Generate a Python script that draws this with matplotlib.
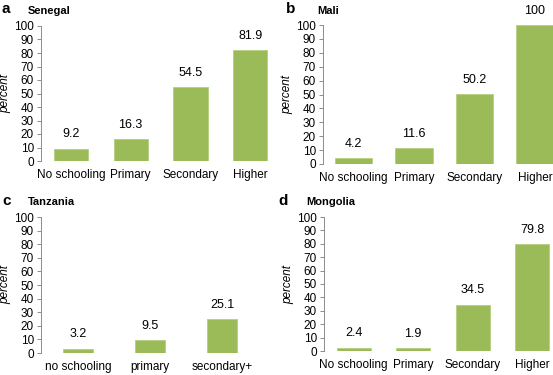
import matplotlib.pyplot as plt

plt.rcParams['font.family'] = ['Liberation Sans', 'DejaVu Sans']

# data
senegal_cats = ['No schooling', 'Primary', 'Secondary', 'Higher']
senegal_vals = [9.2, 16.3, 54.5, 81.9]

mali_cats = ['No schooling', 'Primary', 'Secondary', 'Higher']
mali_vals = [4.2, 11.6, 50.2, 100]

tanzania_cats = ['no schooling', 'primary', 'secondary+']
tanzania_vals = [3.2, 9.5, 25.1]

mongolia_cats = ['No schooling', 'Primary', 'Secondary', 'Higher']
mongolia_vals = [2.4, 1.9, 34.5, 79.8]

GREEN = '#9bbb59'
GREY = '#8c8c8c'
W, H = 553, 375

fig = plt.figure(figsize=(W / 100, H / 100), dpi=100)


def px_axes(left, top, right, bottom):
    return fig.add_axes([left / W, 1 - bottom / H, (right - left) / W, (bottom - top) / H])


def panel(box, cats, vals, xlim, width, letter, title, letter_xy, title_xy):
    ax = px_axes(*box)
    x = list(range(len(cats)))
    ax.bar(x, vals, width=width, color=GREEN, edgecolor='#b5cf83', linewidth=0.6)
    for xi, v in zip(x, vals):
        lbl = f'{v:g}' if v >= 100 else f'{v:.1f}'
        ax.annotate(lbl, (xi, v), xytext=(0, 6), textcoords='offset points',
                    ha='center', va='bottom', fontsize=9)
    ax.set_xlim(*xlim)
    ax.set_ylim(0, 100)
    ax.set_yticks(range(0, 101, 10))
    ax.set_xticks(x)
    ax.set_xticklabels(cats, fontsize=8.5)
    ax.tick_params(axis='x', length=0, pad=6)
    ax.tick_params(axis='y', labelsize=8.5, length=3, width=0.7, color=GREY, pad=2)
    for s in ['top', 'right', 'bottom']:
        ax.spines[s].set_visible(False)
    ax.spines['left'].set_color(GREY)
    ax.spines['left'].set_linewidth(0.7)
    ax.set_ylabel('percent', fontsize=8.5, style='italic', labelpad=2)
    fig.text(letter_xy[0] / W, 1 - letter_xy[1] / H, letter, fontsize=11,
             fontweight='bold', va='center', ha='left')
    fig.text(title_xy[0] / W, 1 - title_xy[1] / H, title, fontsize=8,
             fontweight='bold', va='center', ha='left')
    return ax


panel((41, 26, 270, 161), senegal_cats, senegal_vals, (-0.5, 3.33), 0.57,
      'a', 'Senegal', (2, 9), (28, 11))
panel((323, 25, 553, 164), mali_cats, mali_vals, (-0.5, 3.3), 0.62,
      'b', 'Mali', (286, 9), (317, 11))
panel((41, 217, 270, 353), tanzania_cats, tanzania_vals, (-0.51, 2.66), 0.42,
      'c', 'Tanzania', (2, 201), (28, 202))
panel((324, 217, 553, 351), mongolia_cats, mongolia_vals, (-0.5, 3.35), 0.57,
      'd', 'Mongolia', (278, 201), (306, 202))

fig.savefig('out.png', dpi=100)
